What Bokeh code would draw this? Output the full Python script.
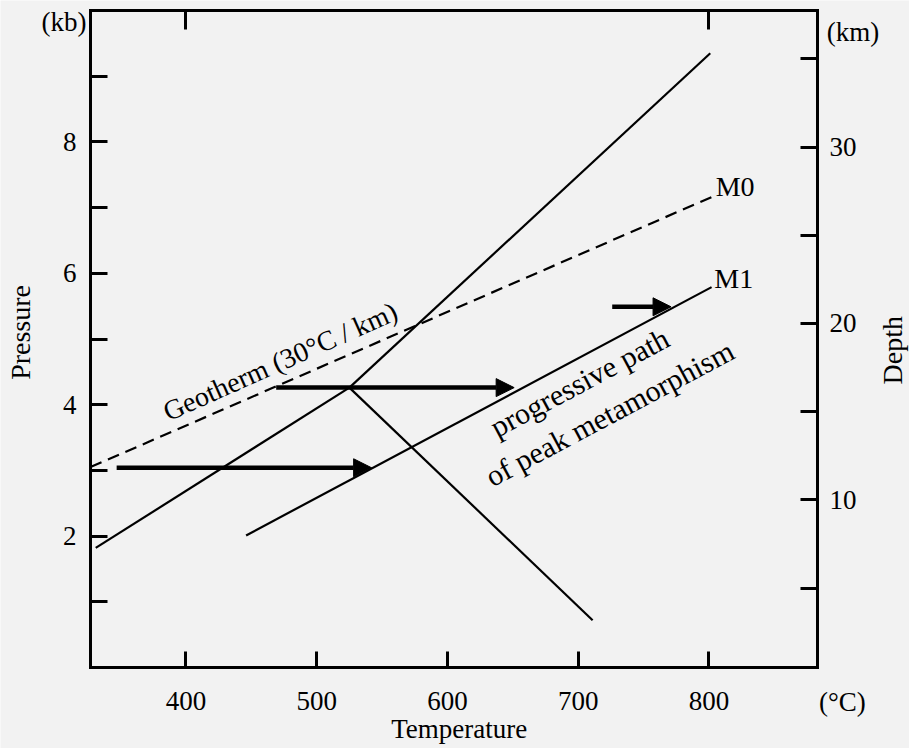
import math
from bokeh.plotting import figure
from bokeh.models import (Range1d, LinearAxis, FixedTicker, Arrow, NormalHead,
                          Label, ColumnDataSource)
from bokeh.embed import file_html
from bokeh.resources import INLINE

# ---------------- data (temperature in degC, pressure in kb, depth in km) ----------------
x_ticks = [400, 500, 600, 700, 800]
top_ticks = [400, 800]
p_ticks = [1, 2, 3, 4, 5, 6, 7, 8, 9]
p_labels = {1: "", 2: "2", 3: "", 4: "4", 5: "", 6: "6", 7: "", 8: "8", 9: ""}
depth_ticks = [5, 10, 15, 20, 25, 30, 35]
depth_labels = {5: "", 10: "10", 15: "", 20: "20", 25: "", 30: "30", 35: ""}

T_min, T_max = 327, 883          # temperature span of the diagram box
P_min, P_max = 0, 10             # pressure span of the diagram box
D_min, D_max = 0.5, 37.74        # depth span of the diagram box

# reaction boundaries meeting at an invariant point
lower_T = [331, 525]
lower_P = [1.82, 4.26]
upper_T = [525, 801]
upper_P = [4.26, 9.35]
down_T = [525, 711]
down_P = [4.26, 0.72]

# geotherm (30 degC / km), dashed, ends at M0
geo_T = [327, 802]
geo_P = [3.05, 7.16]

# progressive path of peak metamorphism, ends at M1
m1_T = [446, 802]
m1_P = [2.01, 5.79]

# horizontal arrows
arrow_T0 = [347, 469, 726]
arrow_T1 = [542, 651, 771]
arrow_P = [3.04, 4.26, 5.49]

SERIF = "Liberation Serif"
BG = "#f2f2f2"
W, H = 909, 748
# the box sits at pixels x 90..817, y 10..667 of the canvas
px_per_T = 727 / (T_max - T_min)
px_per_P = 657 / (P_max - P_min)
x0 = T_min - 90 / px_per_T
y0 = P_min - (H - 667) / px_per_P
depth_per_P = (D_max - D_min) / (P_max - P_min)

p = figure(width=W, height=H,
           x_range=Range1d(x0, x0 + W / px_per_T),
           y_range=Range1d(y0, y0 + H / px_per_P),
           output_backend="svg", toolbar_location=None,
           x_axis_location=None, y_axis_location=None,
           min_border=0, min_border_left=0, min_border_right=0,
           min_border_top=0, min_border_bottom=0,
           background_fill_color=BG, border_fill_color=BG)
p.grid.visible = False
p.outline_line_color = None
p.extra_y_ranges = {"depth": Range1d(D_min + (y0 - P_min) * depth_per_P,
                                     D_min + (y0 + H / px_per_P - P_min) * depth_per_P)}

def style_axis(ax, tick_in, standoff):
    ax.axis_line_color = "black"
    ax.axis_line_width = 3
    ax.axis_line_cap = "square"
    ax.major_tick_line_color = "black"
    ax.major_tick_line_width = 3
    ax.major_tick_in = tick_in
    ax.major_tick_out = 0
    ax.minor_tick_line_color = None
    ax.major_label_text_font = SERIF
    ax.major_label_text_font_size = "27px"
    ax.major_label_text_color = "black"
    ax.major_label_standoff = standoff

xa = LinearAxis(ticker=FixedTicker(ticks=x_ticks), fixed_location=P_min, bounds=(T_min, T_max))
style_axis(xa, 16, 24)
p.add_layout(xa, "below")

ta = LinearAxis(ticker=FixedTicker(ticks=top_ticks), fixed_location=P_max, bounds=(T_min, T_max))
ta.major_label_overrides = {t: "" for t in top_ticks}
style_axis(ta, 19, 0)
p.add_layout(ta, "above")

ya = LinearAxis(ticker=FixedTicker(ticks=p_ticks), fixed_location=T_min, bounds=(P_min, P_max))
ya.major_label_overrides = p_labels
style_axis(ya, 17, 14)
p.add_layout(ya, "left")

ra = LinearAxis(y_range_name="depth", ticker=FixedTicker(ticks=depth_ticks),
                fixed_location=T_max, bounds=(D_min, D_max))
ra.major_label_overrides = depth_labels
style_axis(ra, 17, 12)
p.add_layout(ra, "right")

# lines
for T, P in [(lower_T, lower_P), (upper_T, upper_P), (down_T, down_P), (m1_T, m1_P)]:
    p.line(T, P, line_color="black", line_width=2.2)
p.line(geo_T, geo_P, line_color="black", line_width=2.2, line_dash="12 7")

src = ColumnDataSource(dict(x0=arrow_T0, x1=arrow_T1, y=arrow_P))
p.add_layout(Arrow(end=NormalHead(size=18, fill_color="black", line_color="black", line_width=1),
                   x_start="x0", y_start="y", x_end="x1", y_end="y", source=src,
                   line_color="black", line_width=4.5))

def lab(x, y, text, align="center", baseline="middle", angle=0.0, size="27px"):
    p.add_layout(Label(x=x, y=y, text=text, text_font=SERIF, text_font_size=size,
                       text_align=align, text_baseline=baseline, angle=angle,
                       text_color="black"))

lab(820, 7.32, "M0", size="28px")
lab(819, 5.92, "M1", size="28px")
lab(472, 4.66, "Geotherm (30°C / km)", angle=math.radians(24), size="28px")
lab(701, 4.34, "progressive path", angle=math.radians(28), size="30px")
lab(724, 3.87, "of peak metamorphism", angle=math.radians(28), size="30px")

lab(324, 9.82, "(kb)", align="right")
lab(890, 9.68, "(km)", align="left")
lab(902, -0.53, "(°C)")
lab(273.5, 5.1, "Pressure", angle=math.pi / 2, size="28px")
lab(940, 4.83, "Depth", angle=math.pi / 2, size="28px")
lab(609, -0.94, "Temperature", size="27px")

open("out.html", "w").write(file_html(p, INLINE))
